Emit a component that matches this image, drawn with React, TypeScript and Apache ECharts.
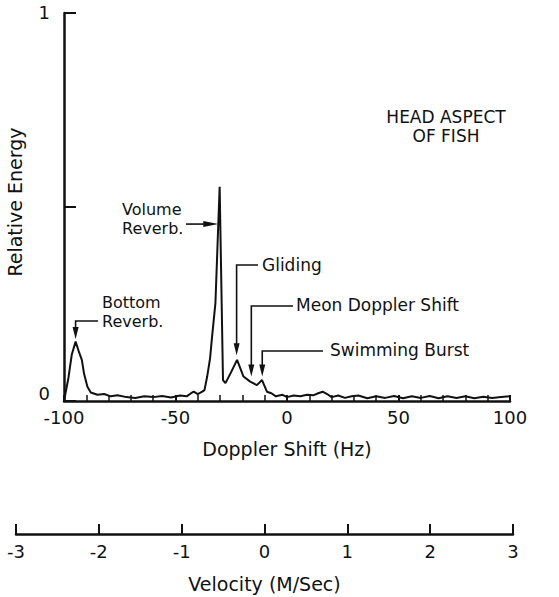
import React, { useEffect, useRef } from "react";
import * as echarts from "echarts";

const doppler = [
  -100, -98, -96.5, -94.8, -93.5, -92, -91, -89.5, -88, -85, -82, -79, -76, -72, -68, -64, -60, -56, -52, -48,
  -45, -43, -41.8, -40, -38, -37, -35.8, -34.5, -33.6, -32.1, -30.2, -28.7, -27.6, -25, -22.4, -19.5, -16.5, -13.5, -11.2, -9,
  -7, -5, -2, 0, 3, 6, 9, 12, 14, 16, 18, 20, 23, 26, 29, 32, 36, 40, 44, 48,
  52, 56, 60, 64, 68, 72, 76, 80, 84, 88, 92, 96, 100,
];
const energy = [
  0, 0.06, 0.12, 0.153, 0.13, 0.106, 0.07, 0.037, 0.022, 0.016, 0.018, 0.012, 0.015, 0.01, 0.008, 0.012, 0.01, 0.013, 0.009, 0.014,
  0.012, 0.02, 0.024, 0.018, 0.024, 0.028, 0.063, 0.11, 0.166, 0.252, 0.552, 0.054, 0.046, 0.075, 0.106, 0.063, 0.05, 0.041, 0.054, 0.024,
  0.02, 0.012, 0.016, 0.01, 0.014, 0.012, 0.016, 0.015, 0.02, 0.024, 0.018, 0.01, 0.014, 0.008, 0.012, 0.014, 0.007, 0.012, 0.008, 0.013,
  0.007, 0.012, 0.008, 0.013, 0.007, 0.012, 0.008, 0.012, 0.007, 0.011, 0.008, 0.01, 0.012,
];

const dopplerTicks = { min: -100, max: 100, interval: 50 };
const velocityTicks = { min: -3, max: 3, interval: 1 };
const energyTicks = { min: 0, max: 1, interval: 0.5 };

// annotations: label text and arrow tip in data coordinates (Hz, relative energy)
const annotations = [
  { name: "bottom", text: "Bottom\nReverb.", x: -94.8, y: 0.16 },
  { name: "volume", text: "Volume\nReverb.", x: -30.8, y: 0.456 },
  { name: "gliding", text: "Gliding", x: -22.6, y: 0.118 },
  { name: "mean", text: "Meon Doppler Shift", x: -16, y: 0.063 },
  { name: "swim", text: "Swimming Burst", x: -11.1, y: 0.063 },
];

const FONT = "DejaVu Sans";

export default function App() {
  const ref = useRef<HTMLDivElement>(null);
  useEffect(() => {
    if (!ref.current) return;
    const chart = echarts.init(ref.current, null, { renderer: "svg" });
    const black = "#111";
    const axisCommon = {
      axisLine: { show: true, onZero: false, lineStyle: { color: black, width: 2.5 } },
      axisTick: { show: true, inside: true, length: 6, lineStyle: { color: black, width: 2 } },
      splitLine: { show: false },
      axisLabel: { color: black, fontSize: 18, fontFamily: FONT },
      nameTextStyle: { color: black, fontSize: 19, fontFamily: FONT },
    };
    chart.setOption({
      animation: false,
      backgroundColor: "#fff",
      textStyle: { fontFamily: FONT },
      grid: [
        { left: 64, right: 49, top: 13, height: 388, outerBoundsMode: "none", containLabel: false },
        { left: 16, right: 46, top: 533, height: 1, outerBoundsMode: "none", containLabel: false },
      ],
      xAxis: [
        {
          ...axisCommon,
          type: "value",
          gridIndex: 0,
          ...dopplerTicks,
          minorTick: { show: true, splitNumber: 5, length: 6, lineStyle: { color: black, width: 1.5 } },
          axisLabel: { ...axisCommon.axisLabel, margin: 7 },
          name: "Doppler Shift (Hz)",
          nameLocation: "middle",
          nameGap: 38,
        },
        {
          ...axisCommon,
          type: "value",
          gridIndex: 1,
          ...velocityTicks,
          axisTick: { show: true, inside: true, length: 10, lineStyle: { color: black, width: 2 } },
          axisLabel: { ...axisCommon.axisLabel, margin: 8 },
          name: "Velocity (M/Sec)",
          nameLocation: "middle",
          nameGap: 40,
        },
      ],
      yAxis: [
        {
          ...axisCommon,
          type: "value",
          gridIndex: 0,
          ...energyTicks,
          axisTick: { show: true, inside: true, length: 12, lineStyle: { color: black, width: 2 } },
          axisLabel: {
            ...axisCommon.axisLabel,
            margin: 14,
            formatter: (v: number) => (v === 0.5 ? "" : v === 0 ? "{z|0}" : "{o|" + v + "}"),
            rich: {
              z: { fontSize: 18, fontFamily: FONT, color: black, padding: [0, 0, 16, 0] },
              o: { fontSize: 18, fontFamily: FONT, color: black, padding: [0, 0, 2, 0] },
            },
          },
          name: "Relative Energy",
          nameLocation: "middle",
          nameGap: 40,
          nameRotate: 90,
          nameTextStyle: { ...axisCommon.nameTextStyle, padding: [0, 0, 0, 10] },
        },
        { type: "value", gridIndex: 1, show: false },
      ],
      series: [
        {
          type: "line",
          xAxisIndex: 0,
          yAxisIndex: 0,
          data: doppler.map((d, i) => [d, energy[i]]),
          showSymbol: false,
          symbol: "none",
          lineStyle: { color: black, width: 2 },
        },
      ],
    });

    const p = (x: number, y: number) => chart.convertToPixel({ gridIndex: 0 }, [x, y]) as number[];
    const g: any[] = [];
    const lineStyle = { stroke: black, lineWidth: 1.6, fill: null };
    const txt = (x: number, y: number, text: string, size = 17) => ({
      type: "text",
      x,
      y,
      style: { text, fill: black, font: `${size}px "${FONT}"`, textAlign: "left", textVerticalAlign: "middle", lineHeight: 19.5 },
    });
    const downArrow = (tx: number, ty: number, fromY: number, fromX: number) => {
      g.push({ type: "polyline", shape: { points: [[fromX, fromY], [tx, fromY], [tx, ty - 8]] }, style: lineStyle });
      g.push({ type: "polygon", shape: { points: [[tx - 3, ty - 12], [tx + 3, ty - 12], [tx, ty]] }, style: { fill: black } });
    };
    annotations.forEach((a) => {
      const [tx, ty] = p(a.x, a.y);
      if (a.name === "bottom") {
        downArrow(tx, ty, 321, 98);
        g.push(txt(102, 312, a.text, 16));
      } else if (a.name === "volume") {
        g.push({ type: "line", shape: { x1: 186, y1: ty, x2: tx - 8, y2: ty }, style: lineStyle });
        g.push({ type: "polygon", shape: { points: [[tx - 15, ty - 3], [tx - 15, ty + 3], [tx, ty]] }, style: { fill: black } });
        g.push(txt(122, 219, a.text, 16));
      } else if (a.name === "gliding") {
        downArrow(tx, ty, 265, 258);
        g.push(txt(262, 265, a.text));
      } else if (a.name === "mean") {
        downArrow(tx, ty, 306, 293);
        g.push(txt(296, 305, a.text));
      } else if (a.name === "swim") {
        downArrow(tx, ty, 351, 323);
        g.push(txt(330, 350, a.text));
      }
    });
    g.push({
      type: "text",
      x: 446,
      y: 126,
      style: { text: "HEAD ASPECT\nOF FISH", fill: black, font: `17px "${FONT}"`, textAlign: "center", textVerticalAlign: "middle", lineHeight: 19 },
    });
    chart.setOption({ graphic: g });
    return () => chart.dispose();
  }, []);
  return <div ref={ref} style={{ width: 559, height: 597, position: "absolute", left: 0, top: 0 }} />;
}
